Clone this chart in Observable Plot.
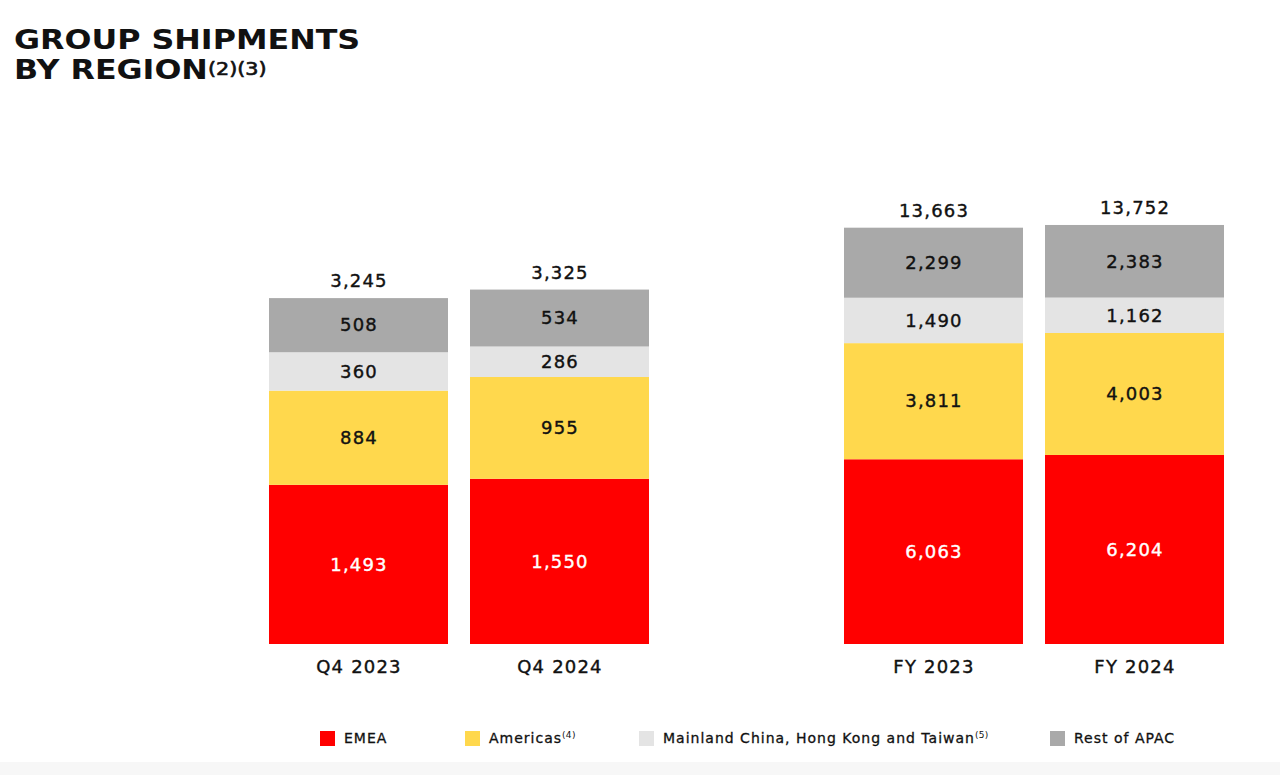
<!DOCTYPE html>
<html>
<head>
<meta charset="utf-8">
<script src="https://cdn.jsdelivr.net/npm/d3@7"></script>
<script src="https://cdn.jsdelivr.net/npm/@observablehq/plot@0.6"></script>
<style>
  html, body { margin: 0; padding: 0; background: #ffffff; }
  body { width: 1280px; height: 775px; position: relative; overflow: hidden; font-family: "DejaVu Sans", sans-serif; color: #111; }
  #title { position: absolute; left: 14px; top: 25px; font-weight: bold; font-size: 26px; line-height: 30px; transform: scaleX(1.22); transform-origin: left top; white-space: nowrap; }
  #title sup { font-size: 17px; font-weight: normal; -webkit-text-stroke: 0.6px #111; vertical-align: 0; position: relative; top: -4px; }
  .panel { position: absolute; top: 150px; }
  #legend .item { position: absolute; top: 730px; height: 16px; display: flex; align-items: center; font-size: 14px; letter-spacing: 1px; white-space: nowrap; -webkit-text-stroke: 0.3px #111; }
  #legend .sw { width: 15px; height: 15px; margin-right: 9px; flex: none; }
  #legend sup { font-size: 9px; position: relative; top: -5px; vertical-align: 0; letter-spacing: 0.3px; -webkit-text-stroke: 0; }
  #strip { position: absolute; left: 0; top: 762px; width: 1280px; height: 13px; background: #f7f7f7; }
</style>
</head>
<body>
<div id="title">GROUP SHIPMENTS<br>BY REGION<sup>(2)(3)</sup></div>
<div id="q4" class="panel" style="left:249px"></div>
<div id="fy" class="panel" style="left:824px"></div>
<div id="legend"></div>
<div id="strip"></div>
<script>
// ---- data ----
const regions = ["EMEA", "Americas", "Mainland China, Hong Kong and Taiwan", "Rest of APAC"];
const legendNotes = ["", "(4)", "(5)", ""];
const regionColors = ["#ff0000", "#ffd84d", "#e4e4e4", "#a9a9a9"];

const q4Periods = ["Q4 2023", "Q4 2024"];
const q4EMEA = [1493, 1550];
const q4Americas = [884, 955];
const q4China = [360, 286];
const q4RestAPAC = [508, 534];
const q4Totals = [3245, 3325];

const fyPeriods = ["FY 2023", "FY 2024"];
const fyEMEA = [6063, 6204];
const fyAmericas = [3811, 4003];
const fyChina = [1490, 1162];
const fyRestAPAC = [2299, 2383];
const fyTotals = [13663, 13752];

// ---- chart ----
const fmt = d3.format(",");
const colorOf = Object.fromEntries(regions.map((r, i) => [r, regionColors[i]]));
const labelColor = d => d.region === "EMEA" ? "#ffffff" : "#111111";

function panel(periods, series, totals, yMax) {
  const rows = [];
  periods.forEach((p, i) => regions.forEach((r, j) => rows.push({period: p, region: r, value: series[j][i]})));
  const totalRows = periods.map((p, i) => ({period: p, total: totals[i]}));
  return Plot.plot({
    width: 420, height: 550,
    marginLeft: 20, marginRight: 20, marginTop: 30, marginBottom: 56,
    style: {fontFamily: "DejaVu Sans", fontSize: "18px", color: "#111", background: "transparent", letterSpacing: "1.2px", overflow: "visible"},
    x: {domain: periods, paddingInner: 0.11, paddingOuter: 0, label: null},
    y: {domain: [0, yMax], axis: null},
    color: {type: "identity"},
    marks: [
      Plot.barY(rows, {x: "period", y: "value", z: "region", fill: d => colorOf[d.region]}),
      Plot.text(rows, Plot.stackY({x: "period", y: "value", z: "region", text: d => fmt(d.value),
        fill: labelColor, stroke: labelColor, strokeWidth: 0.4, fontSize: 18})),
      Plot.text(totalRows, {x: "period", y: "total", text: d => fmt(d.total), dy: -17,
        fill: "#111111", stroke: "#111111", strokeWidth: 0.4, fontSize: 18}),
      Plot.axisX({tickSize: 0, tickPadding: 16, label: null, fontSize: 18, fill: "#111111",
        textStroke: "#111111", textStrokeWidth: 0.4})
    ]
  });
}

document.getElementById("q4").append(panel(q4Periods, [q4EMEA, q4Americas, q4China, q4RestAPAC], q4Totals, 4353));
document.getElementById("fy").append(panel(fyPeriods, [fyEMEA, fyAmericas, fyChina, fyRestAPAC], fyTotals, 15228));

// ---- legend ----
const legendLeft = [320, 465, 639, 1050];
const legend = document.getElementById("legend");
regions.forEach((r, i) => {
  const item = document.createElement("div");
  item.className = "item";
  item.style.left = legendLeft[i] + "px";
  const sw = document.createElement("span");
  sw.className = "sw";
  sw.style.background = regionColors[i];
  item.append(sw);
  const label = document.createElement("span");
  label.textContent = r;
  if (legendNotes[i]) {
    const s = document.createElement("sup");
    s.textContent = legendNotes[i];
    label.append(s);
  }
  item.append(label);
  legend.append(item);
});
</script>
</body>
</html>
